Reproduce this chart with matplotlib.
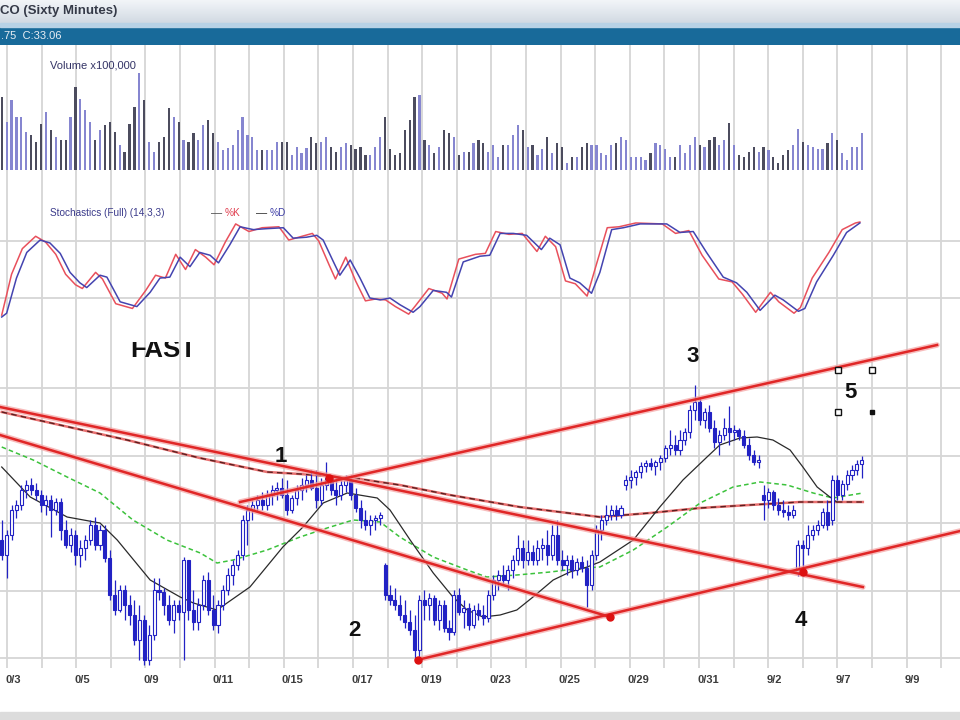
import numpy as np
import matplotlib.pyplot as plt
from matplotlib.patches import Rectangle
from matplotlib.colors import LinearSegmentedColormap
from matplotlib.transforms import blended_transform_factory

plt.rcParams['font.family'] = ['Liberation Sans', 'DejaVu Sans']

# hourly bars, prices in cents
opens = [3260, 3245, 3265, 3290, 3295, 3310, 3315, 3310, 3305, 3295,
         3300, 3290, 3298, 3270, 3255, 3265, 3245, 3252, 3260, 3275,
         3255, 3270, 3242, 3205, 3190, 3210, 3195, 3185, 3160, 3180,
         3140, 3165, 3210, 3208, 3195, 3180, 3195, 3188, 3240, 3190,
         3178, 3195, 3220, 3190, 3175, 3195, 3210, 3225, 3235, 3245,
         3280, 3290, 3295, 3300, 3295, 3305, 3310, 3312, 3305, 3290,
         3302, 3310, 3315, 3320, 3312, 3300, 3315, 3322, 3310, 3305,
         3315, 3320, 3305, 3292, 3280, 3275, 3280, 3282, 3235, 3205,
         3200, 3195, 3185, 3178, 3170, 3150, 3200, 3195, 3202, 3180,
         3195, 3172, 3168, 3205, 3188, 3192, 3175, 3190, 3185, 3182,
         3205, 3220, 3225, 3220, 3230, 3240, 3252, 3240, 3248, 3240,
         3252, 3255, 3245, 3265, 3240, 3235, 3240, 3230, 3238, 3232,
         3215, 3245, 3270, 3280, 3285, 3290, 3285, 3315, 3320, 3323,
         3328, 3334, 3337, 3334, 3338, 3342, 3352, 3355, 3350, 3360,
         3368, 3390, 3398, 3380, 3388, 3372, 3358, 3365, 3372, 3368,
         3370, 3364, 3355, 3345, 3338, 3305, 3300, 3308, 3295, 3290,
         3288, 3285, 3228, 3255, 3252, 3265, 3270, 3275, 3288, 3280,
         3320, 3305, 3316, 3325, 3330, 3336]
closes = [3245, 3265, 3290, 3295, 3310, 3315, 3310, 3305, 3295, 3300,
          3290, 3298, 3270, 3255, 3265, 3245, 3252, 3260, 3275, 3255,
          3270, 3242, 3205, 3190, 3210, 3195, 3185, 3160, 3180, 3140,
          3165, 3210, 3208, 3195, 3180, 3195, 3188, 3240, 3190, 3178,
          3195, 3220, 3190, 3175, 3195, 3210, 3225, 3235, 3245, 3280,
          3290, 3295, 3300, 3295, 3305, 3310, 3312, 3305, 3290, 3302,
          3310, 3315, 3320, 3312, 3300, 3315, 3322, 3310, 3305, 3315,
          3320, 3305, 3292, 3280, 3275, 3280, 3282, 3285, 3205, 3200,
          3195, 3185, 3178, 3170, 3150, 3200, 3195, 3202, 3180, 3195,
          3172, 3168, 3205, 3188, 3192, 3175, 3190, 3185, 3182, 3205,
          3220, 3225, 3220, 3230, 3240, 3252, 3240, 3248, 3240, 3252,
          3255, 3245, 3265, 3240, 3235, 3240, 3230, 3238, 3232, 3215,
          3245, 3270, 3280, 3285, 3290, 3285, 3292, 3320, 3323, 3328,
          3334, 3337, 3334, 3338, 3342, 3352, 3355, 3350, 3360, 3368,
          3390, 3398, 3380, 3388, 3372, 3358, 3365, 3372, 3368, 3370,
          3364, 3355, 3345, 3338, 3340, 3300, 3308, 3295, 3290, 3288,
          3285, 3290, 3255, 3252, 3265, 3270, 3275, 3288, 3275, 3320,
          3305, 3316, 3325, 3330, 3336, 3340]
highs = [3280, 3270, 3295, 3300, 3315, 3320, 3322, 3317, 3310, 3305,
         3305, 3302, 3302, 3280, 3272, 3270, 3260, 3265, 3280, 3283,
         3275, 3275, 3250, 3220, 3215, 3215, 3205, 3200, 3195, 3185,
         3175, 3222, 3222, 3212, 3205, 3200, 3200, 3243, 3240, 3210,
         3202, 3225, 3228, 3205, 3200, 3215, 3232, 3240, 3250, 3285,
         3295, 3300, 3305, 3308, 3310, 3315, 3318, 3322, 3320, 3305,
         3315, 3322, 3325, 3330, 3330, 3322, 3338, 3325, 3322, 3320,
         3325, 3325, 3312, 3300, 3290, 3285, 3285, 3288, 3237, 3215,
         3212, 3205, 3200, 3190, 3185, 3205, 3210, 3207, 3205, 3200,
         3200, 3180, 3210, 3212, 3200, 3197, 3195, 3197, 3195, 3210,
         3225, 3230, 3235, 3235, 3245, 3265, 3260, 3260, 3255, 3260,
         3262, 3270, 3275, 3280, 3250, 3245, 3245, 3242, 3244, 3240,
         3250, 3275, 3285, 3295, 3295, 3295, 3295, 3325, 3330, 3330,
         3338, 3340, 3342, 3340, 3345, 3355, 3370, 3365, 3370, 3372,
         3395, 3415, 3402, 3392, 3395, 3380, 3370, 3382, 3394, 3375,
         3372, 3370, 3362, 3350, 3345, 3315, 3312, 3310, 3302, 3300,
         3295, 3295, 3260, 3260, 3275, 3275, 3280, 3292, 3300, 3325,
         3325, 3320, 3330, 3335, 3340, 3344]
lows = [3240, 3222, 3260, 3282, 3290, 3302, 3305, 3300, 3288, 3285,
        3263, 3285, 3260, 3252, 3248, 3235, 3233, 3240, 3255, 3250,
        3250, 3238, 3200, 3185, 3188, 3180, 3175, 3155, 3140, 3135,
        3135, 3160, 3200, 3185, 3175, 3167, 3180, 3140, 3180, 3170,
        3170, 3190, 3185, 3170, 3167, 3190, 3205, 3215, 3230, 3240,
        3255, 3280, 3288, 3290, 3290, 3295, 3300, 3302, 3285, 3287,
        3295, 3300, 3308, 3310, 3292, 3295, 3310, 3305, 3295, 3300,
        3308, 3300, 3288, 3272, 3270, 3265, 3270, 3275, 3200, 3195,
        3190, 3180, 3172, 3165, 3140, 3138, 3180, 3180, 3175, 3170,
        3168, 3160, 3165, 3185, 3172, 3170, 3172, 3180, 3175, 3178,
        3200, 3210, 3215, 3210, 3222, 3235, 3232, 3235, 3235, 3235,
        3240, 3235, 3240, 3235, 3230, 3225, 3222, 3225, 3228, 3193,
        3210, 3240, 3260, 3275, 3280, 3280, 3282, 3310, 3312, 3315,
        3322, 3328, 3330, 3325, 3330, 3338, 3345, 3345, 3345, 3355,
        3362, 3380, 3375, 3372, 3368, 3352, 3345, 3360, 3355, 3360,
        3360, 3352, 3340, 3335, 3332, 3280, 3292, 3290, 3285, 3283,
        3280, 3282, 3224, 3224, 3245, 3260, 3265, 3272, 3270, 3275,
        3300, 3300, 3310, 3320, 3325, 3322]
# volume, units of 10,000 shares
volume = [73, 48, 70, 53, 53, 38, 35, 28, 46, 58,
          40, 33, 30, 30, 53, 83, 71, 60, 48, 30,
          40, 45, 48, 38, 25, 18, 46, 63, 97, 70,
          28, 18, 28, 33, 62, 53, 48, 30, 28, 37,
          30, 45, 50, 37, 28, 20, 22, 25, 40, 53,
          35, 33, 20, 20, 20, 20, 28, 28, 28, 15,
          23, 17, 22, 33, 27, 28, 33, 23, 18, 23,
          27, 25, 21, 23, 15, 15, 23, 33, 53, 21,
          15, 17, 40, 50, 73, 75, 30, 25, 17, 23,
          40, 37, 33, 15, 18, 18, 27, 30,
          27, 18, 25, 13, 25, 25, 35, 45, 40, 23,
          25, 15, 21, 33, 17, 27, 23, 7, 13, 13,
          23, 27, 25, 25, 17, 15, 25, 27, 33, 30,
          13, 13, 13, 10, 17, 27, 25, 21, 13, 13,
          25, 17, 25, 33, 25, 23, 30, 33, 25, 30,
          47, 25, 15, 13, 18, 23, 18, 23, 20, 13,
          7, 15, 20, 25, 41, 28, 25, 23, 21, 21,
          27, 37, 30, 17, 10, 23, 23, 37]

# stochastics (full 14,3,3): bar position, value
stoch_d_x = [0, 1.0, 3.0, 5.1, 7.8, 9.8, 11.9, 13.9, 15.9, 17.3, 20.0, 21.4, 24.1, 27.5,
             30.2, 32.2, 34.2, 36.3, 38.3, 40.3, 42.4, 44.1, 46.4, 48.5, 51.2, 53.9, 57.3,
             59.3, 62.0, 64.1, 65.4, 67.5, 68.8, 70.9, 72.9, 74.9, 77.0, 79.0, 81.0, 83.7,
             85.1, 87.8, 90.5, 91.5, 93.9, 97.3, 99.3, 101.4, 104.1, 106.8, 109.8, 111.5,
             113.6, 115.6, 117.6, 120.0, 121.7, 124.1, 126.5, 129.9, 135.3, 138.0, 140.7,
             143.4, 146.8, 149.5, 151.6, 154.3, 157.3, 159.0, 162.1, 163.4, 165.8, 169.2,
             171.9, 174.6]
stoch_d = [0, 4, 41, 68, 81, 78, 67, 47, 36, 31, 44, 42, 16, 11,
           26, 41, 42, 63, 53, 68, 65, 57, 76, 95, 92, 93, 94,
           83, 84, 86, 81, 58, 44, 60, 41, 20, 18, 20, 13, 5,
           11, 28, 26, 21, 58, 64, 65, 88, 88, 86, 71, 83,
           76, 41, 36, 25, 47, 92, 94, 98, 98, 89, 90,
           68, 42, 36, 26, 7, 23, 18, 6, 9, 37, 65,
           89, 99]
stoch_k_x = [0, 2.0, 4.2, 6.9, 8.9, 11.0, 13.0, 15.0, 16.4, 19.1, 20.5, 23.2, 26.6,
             29.3, 31.3, 33.3, 35.4, 37.4, 39.4, 41.5, 43.2, 45.5, 47.6, 50.3, 53.0, 56.4,
             58.4, 61.1, 63.2, 64.5, 66.6, 67.9, 70.0, 72.0, 74.0, 76.1, 78.1, 80.1, 82.8,
             84.2, 86.9, 89.6, 90.6, 93.0, 96.4, 98.4, 100.5, 103.2, 105.9, 108.9, 110.6,
             112.7, 114.7, 116.7, 119.1, 120.8, 123.2, 125.6, 129.0, 134.4, 137.1, 139.8,
             142.5, 145.9, 148.6, 150.7, 153.4, 156.4, 158.1, 161.2, 162.5, 164.9, 168.3,
             171.0, 173.7, 174.6]
stoch_k = [2, 45, 72, 85, 79, 66, 45, 34, 30, 47, 40, 14, 9,
           28, 44, 41, 66, 50, 71, 63, 55, 79, 98, 90, 94, 95,
           81, 85, 88, 80, 55, 40, 63, 38, 17, 19, 18, 11, 3,
           12, 30, 25, 19, 61, 66, 67, 90, 87, 88, 69, 85,
           74, 38, 35, 22, 52, 94, 95, 99, 98, 88, 91,
           65, 40, 37, 24, 5, 26, 16, 4, 10, 41, 68,
           92, 99, 100]

# moving averages: bar position, cents
ma_fast_x = [0, 5.8, 13.3, 20.0, 23.5, 30.2, 36.3, 39.0, 43.8, 50.5, 57.2, 61.3, 65.4,
             70.3, 76.4, 79.0, 83.1, 87.8, 91.8, 94.7, 97.9, 101.4, 104.8, 108.1, 112.2,
             115.6, 119.1, 121.7, 128.5, 133.9, 138.6, 143.5, 146.1, 150.2, 153.7, 156.9,
             160.4, 163.0, 165.9, 168.5, 169.9]
ma_fast = [3333, 3303, 3283, 3277, 3260, 3220, 3203, 3197, 3190, 3213, 3253, 3273, 3297,
           3307, 3302, 3290, 3260, 3227, 3203, 3190, 3183, 3185, 3190, 3203, 3220,
           3228, 3233, 3238, 3260, 3293, 3320, 3343, 3355, 3362, 3363, 3360,
           3350, 3333, 3313, 3303, 3298]
ma_mid_x = [0, 6.4, 13.3, 20.0, 26.7, 33.6, 40.4, 43.8, 47.1, 54.0, 60.7, 66.2, 71.5,
            77.0, 81.0, 87.8, 94.7, 98.7, 104.8, 111.6, 118.3, 121.7, 128.5, 135.4,
            142.1, 148.8, 154.3, 159.8, 165.1, 169.1, 175.2]
ma_mid = [3353, 3340, 3323, 3307, 3280, 3260, 3247, 3237, 3240, 3250, 3263, 3272, 3280,
          3278, 3263, 3243, 3230, 3223, 3225, 3228, 3232, 3233, 3250, 3273,
          3297, 3313, 3318, 3315, 3307, 3302, 3307]
ma_slow_x = [0, 25.5, 40.3, 54.0, 60.7, 71.5, 81.0, 91.2, 105.4, 121.7, 131.9, 142.1,
             152.2, 162.4, 175.2]
ma_slow = [3388, 3360, 3342, 3328, 3326, 3322, 3315, 3305, 3293, 3283, 3287, 3292,
           3295, 3298, 3298]

# trend lines: (bar, cents) -> (bar, cents)
trend_lines = [((-0.35, 3393), (175.2, 3213)),
               ((-0.35, 3365), (123.8, 3183)),
               ((48.5, 3298), (190.3, 3455)),
               ((84.5, 3140), (195.0, 3269))]
pivots_x = [66.5, 84.7, 123.8, 163.0]
pivots = [3322, 3140, 3183, 3228]

wave_labels = ['1', '2', '3', '4', '5']
wave_x = [56.8, 71.7, 140.6, 162.6, 172.6]
wave_y = [3344, 3170, 3443, 3180, 3407]

date_labels = ['0/3', '0/5', '0/9', '0/11', '0/15', '0/17', '0/19', '0/23', '0/25',
               '0/29', '0/31', '9/2', '9/7', '9/9']

W, H = 960, 720
GRID = '#d6d6d6'
BLUE = '#2222c4'
BARS_PER_DAY = 7.04
day_lines = 1.08 + BARS_PER_DAY * np.arange(28)
XMIN, XMAX = -0.35, 194.97

fig = plt.figure(figsize=(9.6, 7.2), dpi=100)
fig.patch.set_facecolor('white')


def panel(top, bottom):
    ax = fig.add_axes([0, 1 - bottom / H, 1, (bottom - top) / H])
    ax.set_xlim(XMIN, XMAX)
    for s in ax.spines.values():
        s.set_visible(False)
    ax.set_xticks([])
    ax.set_yticks([])
    for gx in day_lines:
        ax.axvline(gx, color=GRID, lw=1.3, zorder=0)
    return ax


# header bars
head = fig.add_axes([0, 1 - 23 / H, 1, 23 / H])
head.imshow(np.linspace(0, 1, 40).reshape(-1, 1), aspect='auto', extent=[0, 1, 0, 1],
            cmap=LinearSegmentedColormap.from_list('hd', ['#f2f5f8', '#d2dae3']))
head.axis('off')
head.text(0.0, 0.52, 'CO (Sixty Minutes)', fontsize=9.5, fontweight='bold',
          color='#353a48', va='center', ha='left', transform=head.transAxes)
fig.patches.append(Rectangle((0, 1 - 27 / H), 1, 4 / H, transform=fig.transFigure,
                             color='#b8d2e6'))
info = fig.add_axes([0, 1 - 45 / H, 1, 18 / H])
info.set_facecolor('#186a9a')
info.set_xticks([])
info.set_yticks([])
for s in info.spines.values():
    s.set_visible(False)
info.text(0.001, 0.5, '.75  C:33.06', fontsize=8, color='#e8eef4', va='center',
          ha='left', transform=info.transAxes)

# volume
n = len(closes)
xs = np.arange(n)
o = np.array(opens) / 100
c = np.array(closes) / 100
hi = np.array(highs) / 100
lo = np.array(lows) / 100
up = c >= o

axv = panel(45, 192)
axv.set_ylim(-2.2, 12.5)
vol = np.array(volume) / 10
axv.bar(xs[up], vol[up], width=0.45, color='#8686d0', zorder=2)
axv.bar(xs[~up], vol[~up], width=0.45, color='#4c4c5e', zorder=2)
axv.text(0.052, 0.86, 'Volume x100,000', transform=axv.transAxes, fontsize=8,
         color='#343466', va='center')

# stochastics
axs = panel(192, 342)
axs.set_ylim(-26.3, 131.6)
for lvl in (20, 80):
    axs.axhline(lvl, color=GRID, lw=1.3, zorder=0)
axs.plot(stoch_k_x, stoch_k, color='#e8505c', lw=1.1, zorder=3)
axs.plot(stoch_d_x, stoch_d, color='#4444b0', lw=1.1, zorder=4)
ly = 1 - 213 / H
fig.text(50 / W, ly, 'Stochastics (Full) (14,3,3)', fontsize=7.2, color='#3a3a8a', va='center')
fig.text(211 / W, ly, '\u2014', fontsize=8, color='#444444', va='center')
fig.text(225 / W, ly, '%K', fontsize=7.2, color='#e04050', va='center')
fig.text(256 / W, ly, '\u2014', fontsize=8, color='#222222', va='center')
fig.text(270 / W, ly, '%D', fontsize=7.2, color='#4040a8', va='center')

# price
axp = panel(342, 668)
axp.set_ylim(31.32, 34.58)
for gy in 31.42 + 0.675 * np.arange(5):
    axp.axhline(gy, color=GRID, lw=1.3, zorder=0)

axp.plot(np.array(ma_slow_x), np.array(ma_slow) / 100, color='#e87070', lw=1.8, zorder=2)
axp.plot(np.array(ma_slow_x), np.array(ma_slow) / 100, color='#5a2020', lw=1.0,
         dashes=(4, 3), zorder=2)
axp.plot(np.array(ma_mid_x), np.array(ma_mid) / 100, color='#3cc23c', lw=1.1,
         dashes=(3, 2), zorder=2)
axp.plot(np.array(ma_fast_x), np.array(ma_fast) / 100, color='#2a2a2a', lw=0.9, zorder=2)

for (x0, y0), (x1, y1) in trend_lines:
    axp.plot([x0, x1], [y0 / 100, y1 / 100], color='#f4a0a0', lw=4.0, alpha=0.7,
             solid_capstyle='round', zorder=5)
    axp.plot([x0, x1], [y0 / 100, y1 / 100], color='#e02626', lw=1.8, zorder=6)

axp.vlines(xs, lo, hi, color=BLUE, lw=0.9, zorder=3)
body_lo = np.minimum(o, c)
body_h = np.maximum(np.abs(c - o), 0.012)
axp.bar(xs[up], body_h[up], bottom=body_lo[up], width=0.62, color='white',
        edgecolor=BLUE, lw=0.8, zorder=4)
axp.bar(xs[~up], body_h[~up], bottom=body_lo[~up], width=0.62, color=BLUE,
        edgecolor=BLUE, lw=0.8, zorder=4)

axp.plot(pivots_x, np.array(pivots) / 100, 'o', color='#dd1010', ms=5, zorder=7)

for lab, wx, wy in zip(wave_labels, wave_x, wave_y):
    axp.text(wx, wy / 100, lab, fontsize=16, fontweight='bold', color='#111111',
             ha='center', va='center', zorder=8)
axp.text(26.1, 34.43, 'FAST', fontsize=18.5, fontweight='bold', color='#111111',
         ha='left', va='baseline', clip_on=True, zorder=8)

# selection handles around label 5
axp.plot([170.1, 177.1, 170.1], [34.30, 34.30, 33.88], 's', ms=4, mfc='white',
         mec='#111111', mew=1.0, zorder=8)
axp.plot([177.1], [33.88], 's', ms=3.5, color='#111111', zorder=8)

# date labels every other day line
tr = blended_transform_factory(axp.transData, axp.transAxes)
for lab, gx in zip(date_labels, day_lines[::2]):
    axp.text(gx - 0.4, -0.037, lab, transform=tr, fontsize=8, fontweight='bold',
             color='#3c3c3c', ha='left', va='center', clip_on=False)

fig.patches.append(Rectangle((0, 0), 1, 8 / H, transform=fig.transFigure,
                             color='#dcdcdc'))

fig.savefig('out.png', dpi=100)
